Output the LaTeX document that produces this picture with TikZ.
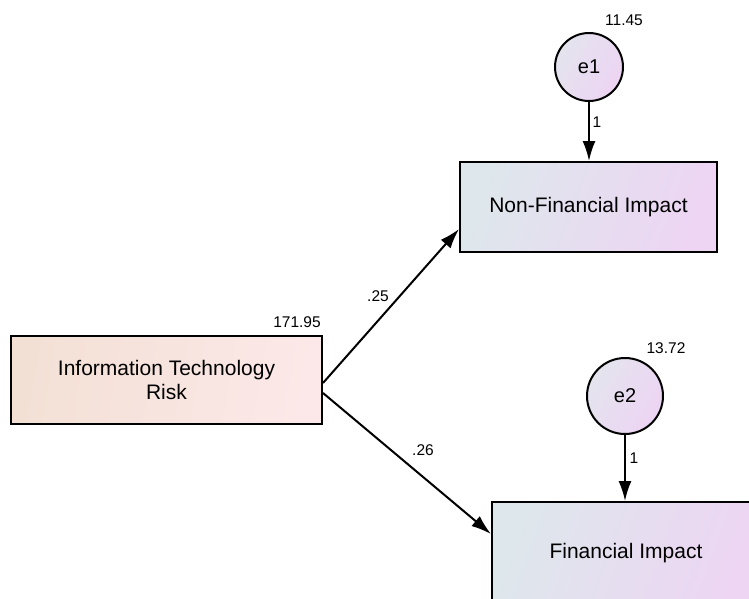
\documentclass[tikz,border=0pt]{standalone}
\usepackage{fontspec}
\setmainfont{Liberation Sans}
\usepackage{tikz}
\usetikzlibrary{arrows.meta, calc}

\definecolor{riskleft}{HTML}{F3E0D5}
\definecolor{riskright}{HTML}{FCE8E8}
\definecolor{endoleft}{HTML}{DEE7EC}
\definecolor{endoright}{HTML}{EDD5F3}
\definecolor{errleft}{HTML}{E4E4EE}
\definecolor{errright}{HTML}{EDD4F3}

\begin{document}
\begin{tikzpicture}[x=1pt, y=-1pt,
		obs/.style = {draw, line width=2pt, rectangle, inner sep=0pt, align=center, font=\fontsize{21}{24}\selectfont},
		exo/.style = {obs, left color=riskleft, right color=riskright, shading angle=80},
		endo/.style = {obs, left color=endoleft, right color=endoright, shading angle=70},
		err/.style = {draw, line width=2pt, circle, inner sep=0pt, left color=errleft, right color=errright, shading angle=60, font=\fontsize{20}{23}\selectfont},
		est/.style = {font=\fontsize{15.5}{18}\selectfont, inner sep=1pt},
		path/.style = {line width=2pt, -{Latex[length=20pt, width=13pt]}}]
		%frame
		\useasboundingbox (0,0) rectangle (749,598);

		%observed variables
		\node [exo, minimum width=311pt, minimum height=88pt] (itr) at (166.5,380) {Information Technology\\Risk};
		\node [endo, minimum width=257pt, minimum height=90pt] (nfi) at (588.5,207) {Non-Financial Impact};
		\node [endo, minimum width=268pt, minimum height=102pt] (fi) at (626,553) {Financial Impact};

		%errors
		\node [err, minimum size=68pt] (e1) at (589,67) {e1};
		\node [err, minimum size=76pt] (e2) at (625,396) {e2};

		%paths
		\draw [path] ([yshift=-3pt]itr.east) -- ([yshift=-22pt]nfi.west);
		\draw [path] ([yshift=-13pt]itr.east) -- ([yshift=19pt]fi.west);
		\draw [path] (e1.south) -- (e1.south |- nfi.north);
		\draw [path] (e2.south) -- (e2.south |- fi.north);

		%estimates
		\node [est] (vitr) at (297,322) {171.95};
		\node [est] (ve1) at (624,20) {11.45};
		\node [est] (ve2) at (666,348) {13.72};
		\node [est] (bnfi) at (378,296) {.25};
		\node [est] (bfi) at (423,450) {.26};
		\node [est] (le1) at (597,122) {1};
		\node [est] (le2) at (634,458) {1};
	\end{tikzpicture}
\end{document}
